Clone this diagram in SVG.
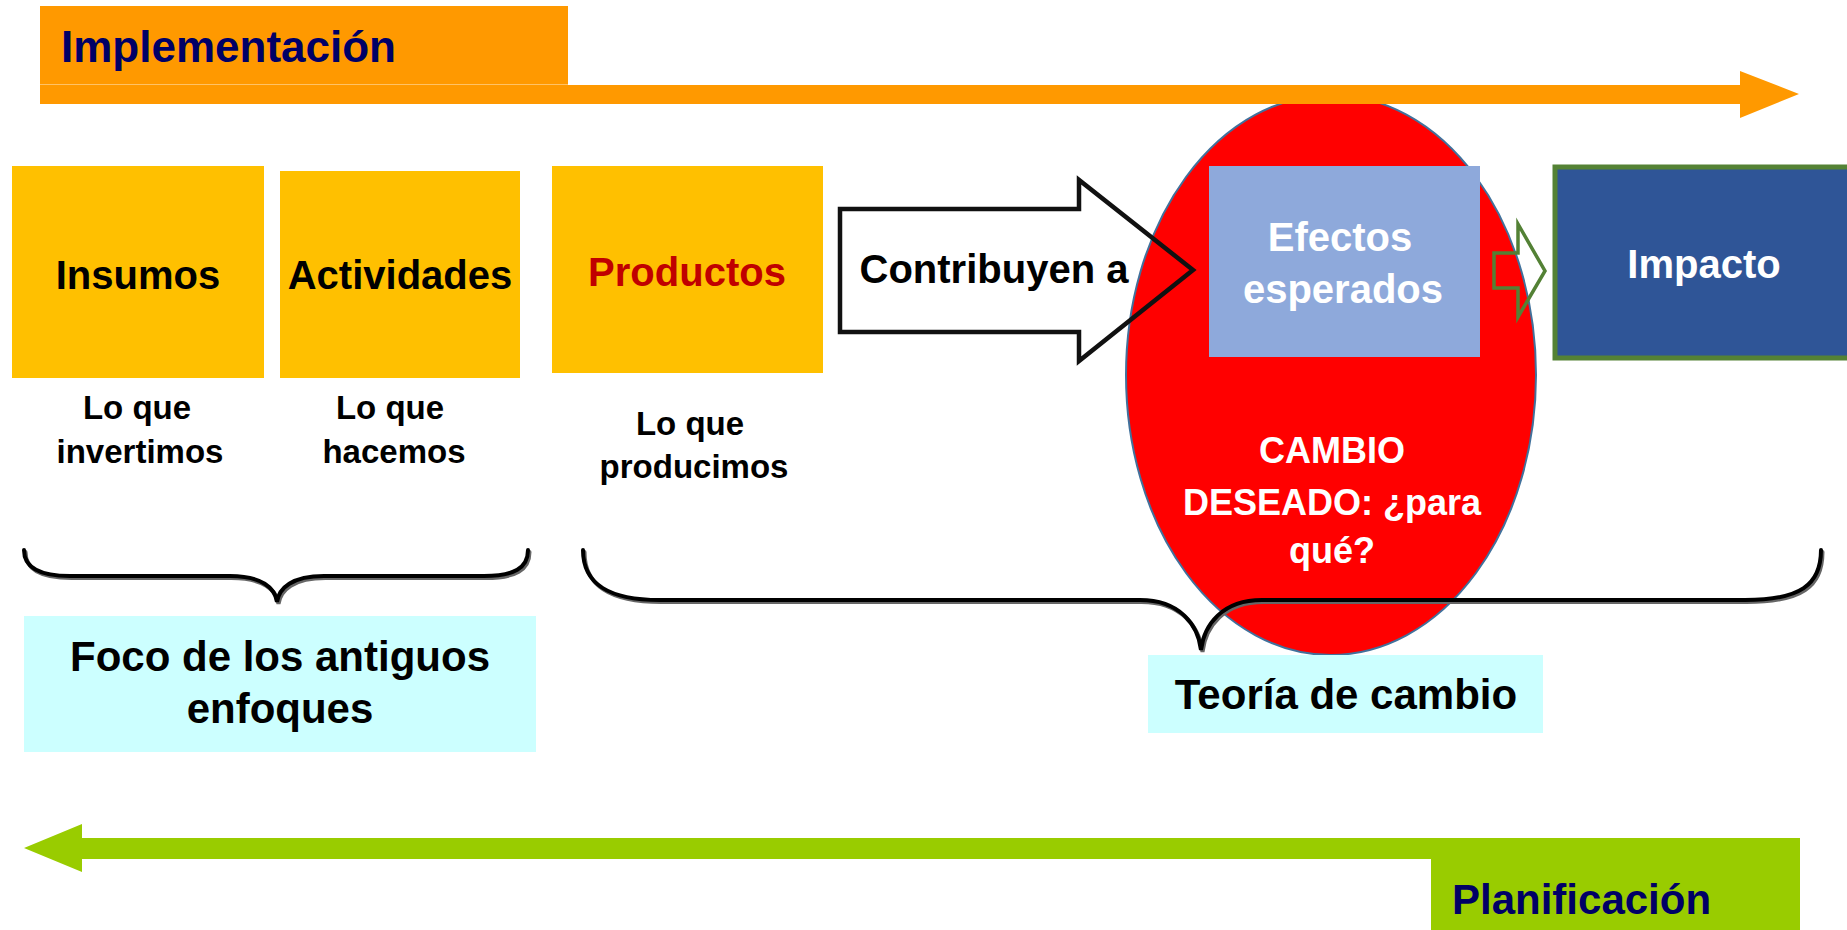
<svg xmlns="http://www.w3.org/2000/svg" width="1847" height="930" viewBox="0 0 1847 930">
<style>
  text { font-family: "Liberation Sans", Arial, sans-serif; font-weight: bold; text-anchor: middle; }
  .big { font-size: 40px; }
  .small { font-size: 33px; fill: #000; }
  .lbl { font-size: 42px; fill: #000; }
  .box { fill: #FFC000; }
  .brace { fill: none; stroke: #000; stroke-width: 4; stroke-linecap: round; }
  .braceShadow { fill: none; stroke: #666; stroke-width: 4; stroke-linecap: round; }
</style>
<rect width="1847" height="930" fill="#fff"/>

<g id="cambio">
  <ellipse cx="1331" cy="375" rx="205" ry="280" fill="#FF0000" stroke="#41719C" stroke-width="2"/>
  <text x="1332" y="463" style="font-size:36px;fill:#fff">CAMBIO</text>
  <text x="1332" y="515" style="font-size:36px;fill:#fff">DESEADO: ¿para</text>
  <text x="1332" y="563" style="font-size:36px;fill:#fff">qué?</text>
</g>

<g id="implementacion">
  <rect x="40" y="6" width="528" height="78" fill="#FF9900"/>
  <polygon points="40,85 1740,85 1740,71 1799,94 1740,118 1740,104 40,104" fill="#FF9900"/>
  <line x1="40" y1="84.5" x2="568" y2="84.5" stroke="#FFC266" stroke-width="1"/>
  <text x="61" y="62" style="font-size:44px;text-anchor:start;fill:#000066">Implementación</text>
</g>

<g id="insumos">
  <rect class="box" x="12" y="166" width="252" height="212"/>
  <text class="big" x="138" y="289">Insumos</text>
  <text class="small" x="137" y="419">Lo que</text>
  <text class="small" x="140" y="463">invertimos</text>
</g>

<g id="actividades">
  <rect class="box" x="280" y="171" width="240" height="207"/>
  <text class="big" x="400" y="289">Actividades</text>
  <text class="small" x="390" y="419">Lo que</text>
  <text class="small" x="394" y="463">hacemos</text>
</g>

<g id="productos">
  <rect class="box" x="552" y="166" width="271" height="207"/>
  <text class="big" x="687" y="286" fill="#C00000">Productos</text>
  <text class="small" x="690" y="435">Lo que</text>
  <text class="small" x="694" y="478">producimos</text>
</g>

<g id="contribuyen">
  <polygon points="840,209 1079,209 1079,180 1193,270 1079,361 1079,332 840,332" fill="none" stroke="#111" stroke-width="4.5" stroke-linejoin="miter"/>
  <text class="big" x="994" y="283">Contribuyen a</text>
</g>

<g id="efectos">
  <rect x="1209" y="166" width="271" height="191" fill="#8EA9DB"/>
  <text class="big" x="1340" y="251" fill="#fff">Efectos</text>
  <text class="big" x="1343" y="303" fill="#fff">esperados</text>
</g>

<g id="impacto">
  <rect x="1555" y="167" width="300" height="191" fill="#2F5597" stroke="#548235" stroke-width="5"/>
  <text class="big" x="1704" y="278" fill="#fff">Impacto</text>
</g>

<g id="connectors">
  <polygon points="1494,253 1518,253 1518,224 1545,271 1518,317 1518,288 1494,288" fill="none" stroke="#538135" stroke-width="3.5"/>
  <path class="braceShadow" transform="translate(1.5,2)" d="M24,550 C24,568 40,576 70,576 L230,576 C262,576 275,588 277,602 C279,588 292,576 324,576 L484,576 C514,576 528,568 528,550"/>
  <path class="brace" d="M24,550 C24,568 40,576 70,576 L230,576 C262,576 275,588 277,602 C279,588 292,576 324,576 L484,576 C514,576 528,568 528,550"/>
  <path class="braceShadow" transform="translate(1.5,2)" d="M583,550 C583,585 610,600 660,600 L1140,600 C1180,600 1198,625 1201,650 C1204,625 1222,600 1262,600 L1745,600 C1800,600 1821,585 1821,550"/>
  <path class="brace" d="M583,550 C583,585 610,600 660,600 L1140,600 C1180,600 1198,625 1201,650 C1204,625 1222,600 1262,600 L1745,600 C1800,600 1821,585 1821,550"/>
</g>

<g id="foco">
  <rect x="24" y="616" width="512" height="136" fill="#CCFFFF"/>
  <text class="lbl" x="280" y="671">Foco de los antiguos</text>
  <text class="lbl" x="280" y="723">enfoques</text>
</g>

<g id="teoria">
  <rect x="1148" y="655" width="395" height="78" fill="#CCFFFF"/>
  <text class="lbl" x="1346" y="709">Teoría de cambio</text>
</g>

<g id="planificacion">
  <polygon points="1800,838 82,838 82,824 24,848 82,872 82,859 1800,859" fill="#99CC00"/>
  <rect x="1431" y="859" width="369" height="71" fill="#99CC00"/>
  <text x="1452" y="914" style="font-size:42px;text-anchor:start;fill:#000066">Planificación</text>
</g>
</svg>
